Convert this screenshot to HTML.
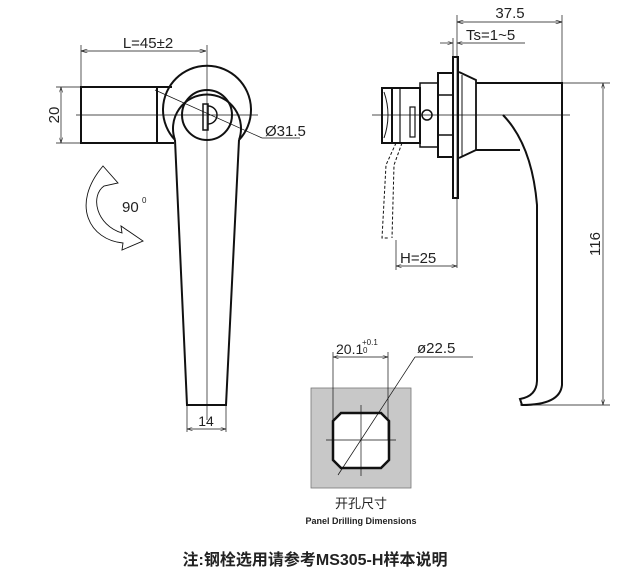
<!DOCTYPE html>
<html><head><meta charset="utf-8"><style>
body{margin:0;background:#fff}
svg{display:block}
text{font-family:"Liberation Sans","Noto Sans CJK SC",sans-serif;fill:#222}
</style></head><body>
<svg width="630" height="588" viewBox="0 0 630 588" xmlns="http://www.w3.org/2000/svg">
<defs>
<marker id="a" viewBox="0 0 10 6" refX="10" refY="3" markerWidth="8" markerHeight="5" orient="auto-start-reverse"><path d="M0,0L10,3L0,6" fill="none" stroke="#222" stroke-width="1"/></marker>
</defs>
<g stroke="#111" fill="none">
<line x1="81" y1="51" x2="206" y2="51" stroke-width="0.8" marker-start="url(#a)" marker-end="url(#a)"/>
<line x1="81" y1="45" x2="81" y2="87" stroke-width="0.7"/>
<line x1="207" y1="45" x2="207" y2="420" stroke-width="0.7"/>
<rect x="81" y="87" width="76" height="56" stroke-width="2"/>
<line x1="157" y1="87" x2="172" y2="87" stroke-width="2"/>
<line x1="157" y1="143" x2="174" y2="143" stroke-width="2"/>
<line x1="61" y1="87" x2="61" y2="143" stroke-width="0.7" marker-start="url(#a)" marker-end="url(#a)"/>
<line x1="56" y1="87" x2="81" y2="87" stroke-width="0.7"/>
<line x1="56" y1="143" x2="81" y2="143" stroke-width="0.7"/>
<line x1="76" y1="115" x2="258" y2="115" stroke-width="0.7"/>
<path d="M175,140 A44,44 0 1 1 239,140" stroke-width="2"/>
<path d="M175,140 A34,34 0 1 1 239,140" stroke-width="2"/>
<circle cx="207" cy="115" r="25" stroke-width="2"/>
<rect x="203" y="104" width="5" height="26" stroke-width="1.5"/>
<path d="M208,106 A9,9 0 0 1 208,124" stroke-width="1.5"/>
<path d="M175,140 L187,405 L226,405 L239,140" stroke-width="2"/>
<line x1="155" y1="90" x2="262" y2="138" stroke-width="0.7"/>
<line x1="262" y1="138" x2="300" y2="138" stroke-width="0.7"/>
<line x1="187" y1="405" x2="187" y2="432" stroke-width="0.7"/>
<line x1="226" y1="405" x2="226" y2="432" stroke-width="0.7"/>
<line x1="187" y1="429" x2="226" y2="429" stroke-width="0.7" marker-start="url(#a)" marker-end="url(#a)"/>
<path d="M103,166 L118,183 L104,186 C90,196 96,225 122,233 L121,226 L143,241 L122,250 L123,243 C90,240 70,205 103,166 Z" stroke-width="0.9"/>
<line x1="457" y1="22" x2="562" y2="22" stroke-width="0.8" marker-start="url(#a)" marker-end="url(#a)"/>
<line x1="562" y1="15" x2="562" y2="83" stroke-width="0.7"/>
<line x1="457" y1="15" x2="457" y2="268" stroke-width="0.7"/>
<line x1="453" y1="38" x2="453" y2="57" stroke-width="0.7"/>
<line x1="440" y1="43" x2="453" y2="43" stroke-width="0.7" marker-end="url(#a)"/>
<line x1="457" y1="43" x2="525" y2="43" stroke-width="0.7" marker-start="url(#a)"/>
<rect x="453" y="57" width="5" height="141" stroke-width="2"/>
<path d="M459,72 L476,80 L476,150 L459,158" stroke-width="1.8"/>
<line x1="462" y1="75" x2="462" y2="156" stroke-width="1"/>
<path d="M476,83 L562,83 L562,385 Q560,405 522,405 L520,399 Q537,396 537,380 L537,205 Q532,145 503,115" stroke-width="2"/>
<line x1="476" y1="150" x2="520" y2="150" stroke-width="2"/>
<rect x="438" y="73" width="15" height="84" stroke-width="2"/>
<line x1="438" y1="95" x2="453" y2="95" stroke-width="1.5"/>
<line x1="438" y1="135" x2="453" y2="135" stroke-width="1.5"/>
<rect x="420" y="83" width="18" height="64" stroke-width="1.5"/>
<circle cx="427" cy="115" r="5" stroke-width="1.5"/>
<rect x="382" y="88" width="38" height="55" stroke-width="2"/>
<line x1="392" y1="88" x2="392" y2="143" stroke-width="2"/>
<line x1="400" y1="88" x2="400" y2="143" stroke-width="1.2"/>
<path d="M384,92 Q392,115 384,138" stroke-width="1"/>
<rect x="410" y="107" width="5" height="30" stroke-width="1.2"/>
<line x1="372" y1="115" x2="570" y2="115" stroke-width="0.7"/>
<path d="M396,143 L386,165 L382,238 L389,238 M402,143 L394,165 L392,238" stroke-width="1" stroke-dasharray="3,2"/>
<line x1="396" y1="240" x2="396" y2="270" stroke-width="0.7"/>
<line x1="396" y1="266" x2="457" y2="266" stroke-width="0.7" marker-start="url(#a)" marker-end="url(#a)"/>
<line x1="562" y1="83" x2="610" y2="83" stroke-width="0.7"/>
<line x1="520" y1="405" x2="610" y2="405" stroke-width="0.7"/>
<line x1="603" y1="83" x2="603" y2="405" stroke-width="0.7" marker-start="url(#a)" marker-end="url(#a)"/>
<rect x="311" y="388" width="100" height="100" fill="#c8c8c8" stroke="#777" stroke-width="0.8"/>
<path d="M341,413 L381,413 L389,421 L389,460 L381,468 L341,468 L333,460 L333,421 Z" fill="#fff" stroke-width="2.5"/>
<line x1="326" y1="440" x2="396" y2="440" stroke-width="0.7"/>
<line x1="361" y1="405" x2="361" y2="476" stroke-width="0.7"/>
<line x1="333" y1="352" x2="333" y2="440" stroke-width="0.7"/>
<line x1="388" y1="352" x2="388" y2="440" stroke-width="0.7"/>
<line x1="333" y1="357" x2="388" y2="357" stroke-width="0.7" marker-start="url(#a)" marker-end="url(#a)"/>
<line x1="338" y1="475" x2="415" y2="357" stroke-width="0.7"/>
<line x1="415" y1="357" x2="473" y2="357" stroke-width="0.7"/>
</g>
<text x="148" y="48" font-size="15" text-anchor="middle">L=45±2</text>
<text transform="translate(59,115) rotate(-90)" font-size="15" text-anchor="middle">20</text>
<text x="265" y="136" font-size="15">Ø31.5</text>
<text x="122" y="212" font-size="15">90</text><text x="142" y="203" font-size="8">0</text>
<text x="206" y="426" font-size="14" text-anchor="middle">14</text>
<text x="510" y="18" font-size="15" text-anchor="middle">37.5</text>
<text x="466" y="40" font-size="15">Ts=1~5</text>
<text x="400" y="263" font-size="15">H=25</text>
<text transform="translate(600,244) rotate(-90)" font-size="15" text-anchor="middle">116</text>
<text x="336" y="354" font-size="14">20.1</text>
<text x="362" y="345" font-size="8">+0.1</text><text x="363" y="353" font-size="8">0</text>
<text x="417" y="353" font-size="15">ø22.5</text>
<text x="361" y="508" font-size="13" text-anchor="middle">开孔尺寸</text>
<text x="361" y="524" font-size="9" font-weight="bold" text-anchor="middle">Panel Drilling Dimensions</text>
<text x="315" y="565" font-size="16" font-weight="bold" text-anchor="middle">注:钢栓选用请参考MS305-H样本说明</text>
</svg>
</body></html>
